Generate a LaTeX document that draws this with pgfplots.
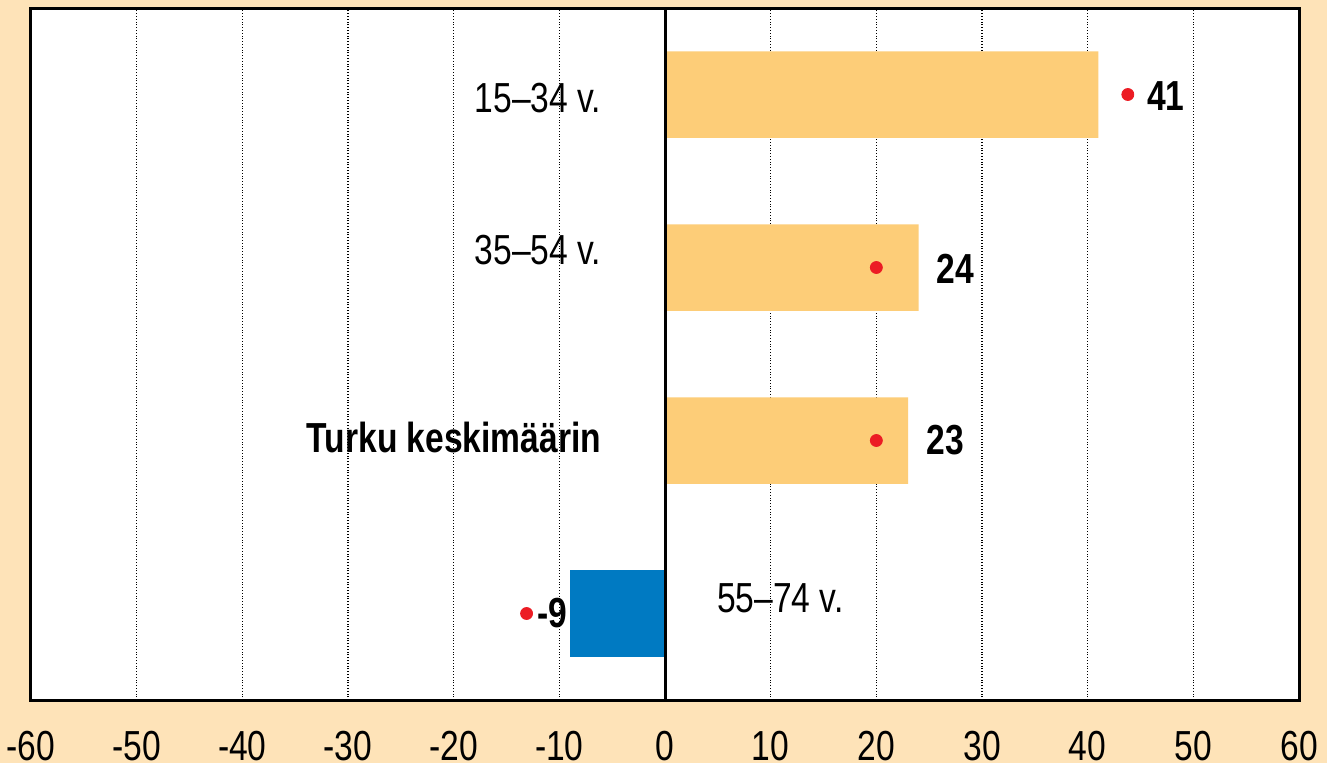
\documentclass[border=0pt]{standalone}
\usepackage{pgfplots}
\pgfplotsset{compat=1.18}
\usepackage{fontspec}
\setmainfont[FakeStretch=0.8]{Liberation Sans}
\definecolor{bgpeach}{HTML}{FEE3B8}
\definecolor{barorange}{HTML}{FDCD78}
\definecolor{barblue}{HTML}{007AC2}
\definecolor{dotred}{HTML}{EC1C24}

\begin{document}
\begin{tikzpicture}
% page background, sets the picture size
\fill[bgpeach] (0,0) rectangle (663.5pt,381.5pt);
\begin{axis}[
  at={(15.5pt,31.5pt)}, anchor=south west,
  scale only axis, width=634pt, height=346pt,
  xmin=-60, xmax=60, ymin=0.5, ymax=4.5,
  xtick={-60,-50,...,60}, ytick=\empty,
  xmajorgrids,
  grid style={black, densely dotted, line width=0.8pt},
  major tick length=0pt,
  axis background/.style={fill=white},
  axis line style={black, line width=1.5pt},
  tick label style={font=\fontsize{21}{25}\selectfont},
  /pgf/number format/assume math mode=true,
  xticklabel style={yshift=-12pt},
  clip=false,
]
% bars
\addplot[xbar, bar shift=0pt, bar width=0.5, fill=barorange, draw=none]
  coordinates {(41,4) (24,3) (23,2)};
\addplot[xbar, bar shift=0pt, bar width=0.5, fill=barblue, draw=none]
  coordinates {(-9,1)};
% red markers
\addplot[only marks, mark=*, mark size=3pt, dotred]
  coordinates {(43.8,4) (20,3) (20,2) (-13.1,1)};

\draw[black, line width=1.5pt] (axis cs:0,0.5) -- (axis cs:0,4.5);

% category labels
\begin{scope}[every node/.style={font=\fontsize{21}{25}\selectfont, inner sep=0pt}]
\node[anchor=east] at (axis cs:-6,3.98) {15–34 v.};
\node[anchor=east] at (axis cs:-6,3.1) {35–54 v.};
\node[anchor=east, font=\fontsize{21}{25}\selectfont\bfseries] at (axis cs:-6,2.02) {Turku keskimäärin};
\node[anchor=west] at (axis cs:4.9,1.09) {55–74 v.};
% values
\node[anchor=west, font=\fontsize{21}{25}\selectfont\bfseries] at (axis cs:45.6,3.99) {41};
\node[anchor=west, font=\fontsize{21}{25}\selectfont\bfseries] at (axis cs:25.7,2.99) {24};
\node[anchor=west, font=\fontsize{21}{25}\selectfont\bfseries] at (axis cs:24.7,2) {23};
\node[anchor=east, font=\fontsize{21}{25}\selectfont\bfseries] at (axis cs:-9.2,1) {-9};
\end{scope}
\end{axis}
\end{tikzpicture}
\end{document}
